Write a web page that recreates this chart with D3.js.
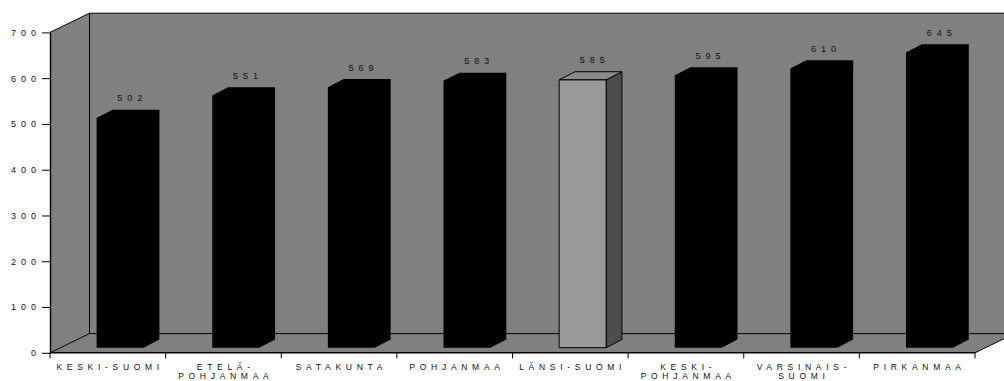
<!DOCTYPE html>
<html>
<head>
<meta charset="utf-8">
<script src="https://cdn.jsdelivr.net/npm/d3@7"></script>
<style>
  html, body { margin: 0; padding: 0; background: #ffffff; }
  svg { display: block; }
  text { font-family: "Liberation Sans", Arial, sans-serif; fill: #111; }
</style>
</head>
<body>
<svg id="chart" width="1004" height="381"></svg>
<script>
// Regions and their values
const categories = ["KESKI-SUOMI", "ETELÄ-POHJANMAA", "SATAKUNTA", "POHJANMAA",
                    "LÄNSI-SUOMI", "KESKI-POHJANMAA", "VARSINAIS-SUOMI", "PIRKANMAA"];
const categoryLines = [["KESKI-SUOMI"], ["ETELÄ-", "POHJANMAA"], ["SATAKUNTA"], ["POHJANMAA"],
                       ["LÄNSI-SUOMI"], ["KESKI-", "POHJANMAA"], ["VARSINAIS-", "SUOMI"], ["PIRKANMAA"]];
const values = [502, 551, 569, 583, 585, 595, 610, 645];
const highlighted = "LÄNSI-SUOMI";
const yTicks = [0, 100, 200, 300, 400, 500, 600, 700];

// Layout of the 3D box
const plotLeft = 50, plotRight = 975;
const yZero = 352.8, yMax = 32.4;
const depthX = 39.5, depthY = -19.2;      // offset of the back wall
const barShiftY = -5.1;                   // bar front face sits a little behind the front plane
const barDepthX = 15.8, barDepthY = -8.2; // thickness of each bar
const barLeft = -11.2, barWidth = 47;     // relative to band centre

const numFont = 9, numLs = 5;
const catFont = 8.5, catLs = 4.7;

const svg = d3.select("#chart");

const x = d3.scaleBand().domain(categories).range([plotLeft, plotRight]).padding(0);
const y = d3.scaleLinear().domain([0, 700]).range([yZero, yMax]);
const bw = x.bandwidth();

const gray = "#808080";
const line = d3.line();

// Walls and floor
const farRight = plotRight + depthX;
const walls = svg.append("g");
walls.append("path") // back wall
  .attr("d", line([[plotLeft + depthX, yMax + depthY], [farRight, yMax + depthY],
                   [farRight, yZero + depthY], [plotLeft + depthX, yZero + depthY]]) + "Z")
  .attr("fill", gray);
walls.append("path") // side wall
  .attr("d", line([[plotLeft, yMax], [plotLeft + depthX, yMax + depthY],
                   [plotLeft + depthX, yZero + depthY], [plotLeft, yZero]]) + "Z")
  .attr("fill", gray);
walls.append("path") // floor
  .attr("d", line([[plotLeft, yZero], [plotLeft + depthX, yZero + depthY],
                   [farRight, yZero + depthY], [plotRight, yZero]]) + "Z")
  .attr("fill", gray);

// Wall edges
const edges = [
  [[plotLeft, yMax], [plotLeft + depthX, yMax + depthY]],
  [[plotLeft + depthX, yMax + depthY], [farRight, yMax + depthY]],
  [[plotLeft + depthX, yMax + depthY], [plotLeft + depthX, yZero + depthY]],
  [[plotLeft + depthX, yZero + depthY], [farRight, yZero + depthY]],
  [[plotLeft, yZero], [plotLeft + depthX, yZero + depthY]],
  [[plotRight, yZero], [farRight, yZero + depthY]]
];
walls.selectAll("path.edge").data(edges).join("path")
  .attr("class", "edge")
  .attr("d", d => line(d))
  .attr("fill", "none").attr("stroke", "#000").attr("stroke-width", 1);

// Bars
const bars = svg.append("g");
categories.forEach((c, i) => {
  const v = values[i];
  const cx = x(c) + bw / 2;
  const l = cx + barLeft, r = l + barWidth;
  const top = y(v) + barShiftY, bot = y(0) + barShiftY;
  const front = [[l, top], [r, top], [r, bot], [l, bot]];
  const topFace = [[l, top], [l + barDepthX, top + barDepthY], [r + barDepthX, top + barDepthY], [r, top]];
  const side = [[r, top], [r + barDepthX, top + barDepthY], [r + barDepthX, bot + barDepthY], [r, bot]];
  if (c === highlighted) {
    const g = bars.append("g").attr("stroke", "#000").attr("stroke-width", 1).attr("stroke-linejoin", "round");
    g.append("path").attr("d", line(side) + "Z").attr("fill", "#4d4d4d");
    g.append("path").attr("d", line(topFace) + "Z").attr("fill", "#8a8a8a");
    g.append("path").attr("d", line(front) + "Z").attr("fill", "#999999");
  } else {
    const outline = [[l, top], [l + barDepthX, top + barDepthY], [r + barDepthX, top + barDepthY],
                     [r + barDepthX, bot + barDepthY], [r, bot], [l, bot]];
    bars.append("path").attr("d", line(outline) + "Z").attr("fill", "#000");
  }
  // value label
  bars.append("text")
    .attr("x", cx + 22 + numLs / 2)
    .attr("y", top + barDepthY - 8.5)
    .attr("text-anchor", "middle")
    .attr("font-size", numFont)
    .attr("letter-spacing", numLs)
    .text(v);
});

// Y axis (front edge)
const yAxis = d3.axisLeft(y).tickValues(yTicks).tickSize(8).tickSizeOuter(0).tickPadding(6);
const ya = svg.append("g").attr("transform", `translate(${plotLeft},0)`).call(yAxis);
ya.select(".domain").attr("stroke", "#000").attr("stroke-width", 1.4);
ya.selectAll(".tick line").attr("stroke", "#000");
ya.selectAll(".tick text")
  .attr("font-size", numFont)
  .attr("font-family", "Liberation Sans, Arial, sans-serif")
  .attr("fill", "#111")
  .attr("letter-spacing", numLs)
  .attr("dx", numLs);

// X axis (front edge of floor)
const xa = svg.append("g");
xa.append("line")
  .attr("x1", plotLeft).attr("x2", plotRight).attr("y1", yZero).attr("y2", yZero)
  .attr("stroke", "#000").attr("stroke-width", 1.4);
const boundaries = categories.map(c => x(c)).concat([plotRight]);
xa.selectAll("line.tick").data(boundaries).join("line")
  .attr("class", "tick")
  .attr("x1", d => d).attr("x2", d => d)
  .attr("y1", yZero).attr("y2", yZero + 5.5)
  .attr("stroke", "#000");
categories.forEach((c, i) => {
  const t = xa.append("text")
    .attr("text-anchor", "middle")
    .attr("font-size", catFont)
    .attr("letter-spacing", catLs);
  categoryLines[i].forEach((ln, j) => {
    t.append("tspan")
      .attr("x", x(c) + bw / 2 + catLs / 2)
      .attr("y", 369.6 + j * 9.8)
      .text(ln);
  });
});
</script>
</body>
</html>
